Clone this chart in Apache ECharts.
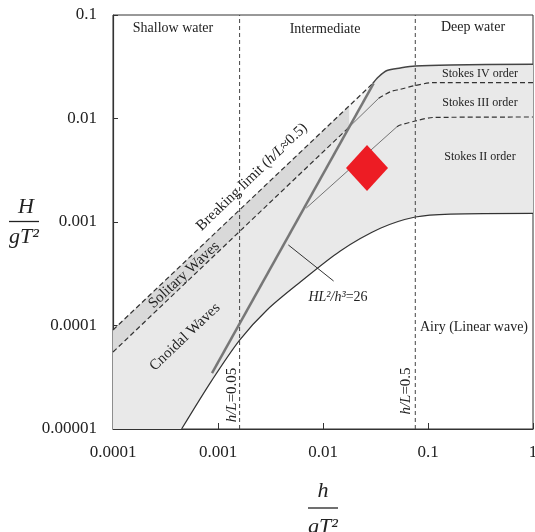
<!DOCTYPE html>
<html><head><meta charset="utf-8">
<script src="https://cdn.jsdelivr.net/npm/echarts/dist/echarts.min.js"></script>
<style>html,body{margin:0;padding:0;background:#fff}#c{width:535px;height:532px}</style>
</head><body><div id="c"></div>
<script>
// ---- axis ticks ----
const xTickValues = [0.0001, 0.001, 0.01, 0.1, 1];
const xTickLabels = ['0.0001', '0.001', '0.01', '0.1', '1'];
const yTickValues = [0.00001, 0.0001, 0.001, 0.01, 0.1];
const yTickLabels = ['0.00001', '0.0001', '0.001', '0.01', '0.1'];

// ---- curves [h/gT^2, H/gT^2] ----
const breakingLimit = [[0.0001, 9.05e-5], [0.0299, 0.02188]];
const deepBreaking = [[0.0299, 0.02188], [0.03365, 0.02517], [0.04074, 0.02911], [0.05445, 0.03077], [0.07568, 0.03215], [0.163, 0.0329], [1, 0.0334]];
const solitaryLower = [[0.0001, 5.54e-5], [0.01778, 0.00828]];
const stokes34Thin = [[0.01778, 0.00828], [0.0339, 0.01567]];
const stokes34Dash = [[0.0339, 0.01567], [0.04375, 0.01815], [0.05445, 0.01914], [0.07568, 0.02084], [0.1123, 0.02218], [1, 0.02218]];
const stokes23Thin = [[0.006934, 0.001365], [0.0507, 0.008337]];
const stokes23Dash = [[0.0507, 0.008337], [0.05445, 0.00865], [0.07568, 0.009455], [0.1123, 0.01023], [1, 0.01034]];
const airyLimit = [[4.5e-4, 1e-5], [8.77e-4, 2.97e-5], [1.607e-3, 7.24e-5], [2.93e-3, 1.413e-4], [6.08e-3, 2.63e-4], [0.01462, 5.25e-4], [0.03516, 8.69e-4], [0.07568, 1.117e-3], [0.163, 1.194e-3], [1, 1.213e-3]];
const ursellLine = [[8.77e-4, 3.47e-5], [0.03034, 0.02188]];
const depthLimits = [0.001606, 0.07568]; // h/L = 0.05 and h/L = 0.5
const testPoint = [[0.02625, 0.003325]];
const arrowFrom = [0.01262, 2.69e-4];
const arrowTo = [0.004677, 6.0e-4];

const X_MIN = 0.0001, X_MAX = 1, Y_MIN = 0.00001, Y_MAX = 0.1;

function logInterp(line, x) {
  const a = line[0], b = line[line.length - 1];
  const t = (Math.log10(x) - Math.log10(a[0])) / (Math.log10(b[0]) - Math.log10(a[0]));
  return Math.pow(10, Math.log10(a[1]) + t * (Math.log10(b[1]) - Math.log10(a[1])));
}

const bandEnd = solitaryLower[solitaryLower.length - 1];
const bandTop = [bandEnd[0], logInterp(breakingLimit, bandEnd[0])];
const mainRegion = [[X_MIN, Y_MIN]].concat(breakingLimit, deepBreaking.slice(1), airyLimit.slice().reverse());
const bandRegion = [breakingLimit[0], bandTop, bandEnd, solitaryLower[0]];
const patchRegion = [bandEnd, bandTop, breakingLimit[breakingLimit.length - 1]];

function polySeries(pts, color, z) {
  return {
    type: 'custom', coordinateSystem: 'cartesian2d', silent: true, z: z,
    data: [pts[0]],
    renderItem: function (params, api) {
      return { type: 'polygon', shape: { points: pts.map(function (p) { return api.coord(p); }) }, style: { fill: color } };
    }
  };
}
function lineSeries(data, color, width, type, z, smooth) {
  return {
    type: 'line', data: data, showSymbol: false, symbol: 'none', silent: true, z: z || 3,
    smooth: smooth || false,
    lineStyle: { color: color, width: width, type: type }
  };
}
function fmt(values, labels) {
  return function (v) {
    for (let i = 0; i < values.length; i++) {
      if (Math.abs(Math.log10(values[i]) - Math.log10(v)) < 1e-6) return labels[i];
    }
    return '';
  };
}

const SERIF = '"Liberation Serif","Times New Roman",serif';
const chart = echarts.init(document.getElementById('c'), null, { renderer: 'canvas' });

const series = [
  polySeries(mainRegion, '#e9e9e9', 1),
  polySeries(bandRegion, '#d9d9d9', 1),
  polySeries(patchRegion, '#f4f4f4', 1),
  lineSeries(breakingLimit, '#333', 1.2, [5, 3]),
  lineSeries(deepBreaking, '#444', 1.5, 'solid', 3, 0.3),
  lineSeries(solitaryLower, '#333', 1.2, [5, 3]),
  lineSeries(stokes34Thin, '#555', 0.8, 'solid'),
  lineSeries(stokes34Dash, '#333', 1.2, [5, 3], 3, 0.3),
  lineSeries(stokes23Thin, '#555', 0.8, 'solid'),
  lineSeries(stokes23Dash, '#333', 1.2, [5, 3], 3, 0.3),
  lineSeries(airyLimit, '#333', 1.2, 'solid', 3, 0.3),
  lineSeries(ursellLine, '#777', 2.5, 'solid', 4),
  lineSeries([[depthLimits[0], Y_MIN], [depthLimits[0], Y_MAX]], '#444', 1, [4, 3]),
  lineSeries([[depthLimits[1], Y_MIN], [depthLimits[1], Y_MAX]], '#444', 1, [4, 3]),
  {
    type: 'line', data: [], silent: true, z: 4,
    markLine: {
      silent: true, symbol: ['none', 'arrow'], symbolSize: [0, 7], animation: false,
      label: { show: false },
      lineStyle: { color: '#333', width: 1, type: 'solid' },
      data: [[{ coord: arrowFrom }, { coord: arrowTo }]]
    }
  },
  {
    type: 'scatter', data: testPoint, symbol: 'diamond', symbolSize: [42, 46], z: 6, silent: true,
    itemStyle: { color: '#ed1c24', opacity: 1 }
  }
];

function txt(x, y, text, size, opts) {
  opts = opts || {};
  return {
    type: 'text', x: x, y: y, rotation: opts.rotation || 0, z: 100,
    style: {
      text: text, fill: '#222', font: (opts.italic ? 'italic ' : '') + size + 'px ' + SERIF,
      align: 'center', verticalAlign: 'middle',
      rich: {
        i: { fontFamily: SERIF, fontStyle: 'italic', fontSize: size, fill: '#222' },
        n: { fontFamily: SERIF, fontSize: size, fill: '#222' }
      }
    }
  };
}

const graphic = [
  txt(173, 28, 'Shallow water', 14),
  txt(325, 29, 'Intermediate', 14),
  txt(473, 27, 'Deep water', 14),
  txt(480, 73.5, 'Stokes IV order', 12),
  txt(480, 103, 'Stokes III order', 12),
  txt(480, 157, 'Stokes II order', 12),
  txt(474, 327, 'Airy (Linear wave)', 14),
  txt(232.5, 395, '{i|h/L}{n|=0.05}', 15, { rotation: Math.PI / 2 }),
  txt(406, 391, '{i|h/L}{n|=0.5}', 15, { rotation: Math.PI / 2 }),
  txt(252, 177, '{n|Breaking limit (}{i|h/L}{n|≈0.5)}', 15, { rotation: 44 * Math.PI / 180 }),
  txt(184, 275, 'Solitary Waves', 15, { rotation: 43 * Math.PI / 180 }),
  txt(185, 337, 'Cnoidal Waves', 15, { rotation: 43.6 * Math.PI / 180 }),
  txt(338, 297, '{i|HL²/h³}{n|=26}', 14),
  // y-axis title H / gT^2
  txt(26, 207, 'H', 22, { italic: true }),
  { type: 'line', z: 100, shape: { x1: 9, y1: 221.5, x2: 39, y2: 221.5 }, style: { stroke: '#222', lineWidth: 1.3 } },
  txt(24, 237, 'gT²', 22, { italic: true }),
  // x-axis title h / gT^2
  txt(323, 491, 'h', 22, { italic: true }),
  { type: 'line', z: 100, shape: { x1: 308, y1: 508, x2: 338, y2: 508 }, style: { stroke: '#222', lineWidth: 1.3 } },
  txt(323, 527, 'gT²', 22, { italic: true })
];

chart.setOption({
  animation: false,
  backgroundColor: '#fff',
  grid: { left: 113, right: 2, top: 15, bottom: 103, containLabel: false, outerBoundsMode: 'none', show: true, borderColor: '#333', borderWidth: 1, backgroundColor: 'transparent' },
  xAxis: {
    type: 'log', logBase: 10, min: X_MIN, max: X_MAX,
    axisLine: { show: true, lineStyle: { color: '#333', width: 1.2 } },
    axisTick: { show: true, inside: true, length: 6, lineStyle: { color: '#333' } },
    minorTick: { show: false },
    splitLine: { show: false },
    axisLabel: { formatter: fmt(xTickValues, xTickLabels), fontFamily: SERIF, fontSize: 17, color: '#222', margin: 15 }
  },
  yAxis: {
    type: 'log', logBase: 10, min: Y_MIN, max: Y_MAX,
    axisLine: { show: true, lineStyle: { color: '#333', width: 1.2 } },
    axisTick: { show: true, inside: true, length: 5, lineStyle: { color: '#333' } },
    minorTick: { show: false },
    splitLine: { show: false },
    axisLabel: { formatter: fmt(yTickValues, yTickLabels), fontFamily: SERIF, fontSize: 17, color: '#222', margin: 16 }
  },
  series: series,
  graphic: graphic
});
</script>
</body></html>
